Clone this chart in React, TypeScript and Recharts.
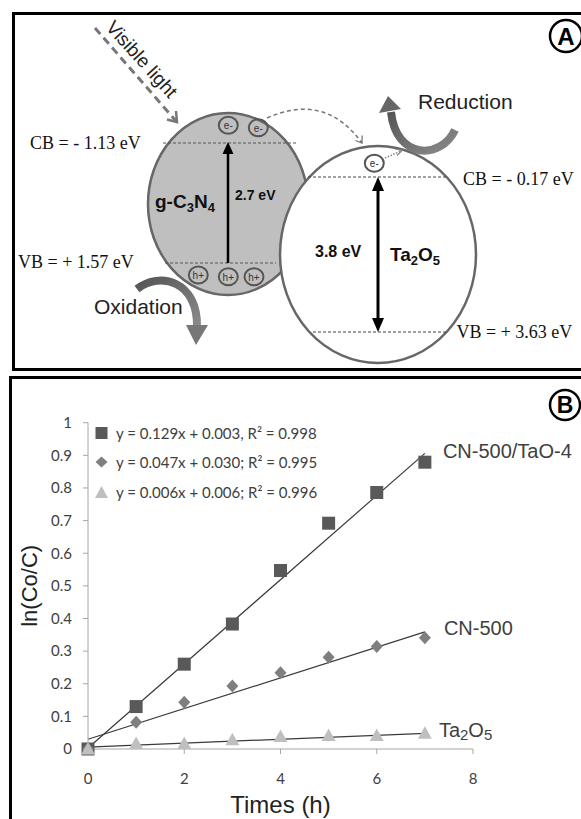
import React from 'react';
import { ComposedChart, Scatter, XAxis, YAxis, ReferenceLine, Legend, Label } from 'recharts';

// ---------- data (panel B) ----------
const times = [0, 1, 2, 3, 4, 5, 6, 7];
const cnTaoValues = [0, 0.13, 0.26, 0.383, 0.547, 0.692, 0.786, 0.879];
const cnValues = [0, 0.082, 0.143, 0.193, 0.234, 0.281, 0.314, 0.341];
const taValues = [0, 0.017, 0.017, 0.028, 0.038, 0.041, 0.041, 0.048];
const seriesNames = ['CN-500/TaO-4', 'CN-500', 'Ta2O5'];
const fitSlopes = [0.129, 0.047, 0.006];
const fitIntercepts = [0.003, 0.03, 0.006];
const fitLabels = [
  'y = 0.129x + 0.003, R² = 0.998',
  'y = 0.047x + 0.030; R² = 0.995',
  'y = 0.006x + 0.006; R² = 0.996',
];
const xTicks = [0, 2, 4, 6, 8];
const yTicks = [0, 0.1, 0.2, 0.3, 0.4, 0.5, 0.6, 0.7, 0.8, 0.9, 1];
const fitStart = 0;
const fitEnd = 7;

const toPoints = (vals: number[]) => times.map((t, i) => ({ x: t, y: vals[i] }));
const seriesData = [toPoints(cnTaoValues), toPoints(cnValues), toPoints(taValues)];

const COLORS = ['#595959', '#7f7f7f', '#bfbfbf'];
const LABEL_FONT = '"Liberation Sans", Arial, sans-serif';
const TICK_FONT = 'Lato, "Open Sans", sans-serif';
const SERIF = '"Liberation Serif", "Times New Roman", serif';

const SeriesLabel = ({ x, y, idx }: { x: number; y: number; idx: number }) => {
  if (idx === 2) {
    return (
      <text x={x} y={y} fontFamily={LABEL_FONT} fontSize={20} fill="#404040">
        Ta<tspan fontSize={15} dy={3}>2</tspan>
        <tspan fontSize={20} dy={-3}>O</tspan>
        <tspan fontSize={15} dy={3}>5</tspan>
      </text>
    );
  }
  return (
    <text x={x} y={y} fontFamily={LABEL_FONT} fontSize={20} fill="#404040">
      {seriesNames[idx]}
    </text>
  );
};

const labelOffsets = [
  { dx: 18, dy: -4 },
  { dx: 19, dy: -3 },
  { dx: 14, dy: 4 },
];

const makeShape = (idx: number) => (props: any) => {
  const { cx, cy, payload } = props;
  if (cx == null || cy == null) return <g />;
  let mark;
  if (idx === 0) {
    mark = <rect x={cx - 6.5} y={cy - 6.5} width={13} height={13} fill={COLORS[0]} />;
  } else if (idx === 1) {
    mark = (
      <polygon
        points={`${cx},${cy - 6.5} ${cx + 6},${cy} ${cx},${cy + 6.5} ${cx - 6},${cy}`}
        fill={COLORS[1]}
      />
    );
  } else {
    mark = (
      <polygon
        points={`${cx},${cy - 7} ${cx + 7},${cy + 5.5} ${cx - 7},${cy + 5.5}`}
        fill={COLORS[2]}
      />
    );
  }
  const isLast = payload && payload.x === times[times.length - 1];
  return (
    <g>
      {mark}
      {isLast && (
        <SeriesLabel x={cx + labelOffsets[idx].dx} y={cy + labelOffsets[idx].dy} idx={idx} />
      )}
    </g>
  );
};

const LegendMarker = ({ idx }: { idx: number }) => (
  <svg width={13} height={14} style={{ display: 'block' }}>
    {idx === 0 && <rect x={0.5} y={1} width={12} height={12} fill={COLORS[0]} />}
    {idx === 1 && <polygon points="6.5,1.5 12.5,7 6.5,12.5 0.5,7" fill={COLORS[1]} />}
    {idx === 2 && <polygon points="6.5,1 13,13 0,13" fill={COLORS[2]} />}
  </svg>
);

const LegendContent = () => (
  <div style={{ fontFamily: TICK_FONT, fontSize: 15, color: '#404040' }}>
    {fitLabels.map((t, i) => (
      <div key={i} style={{ display: 'flex', alignItems: 'center', height: 29.5, whiteSpace: 'nowrap' }}>
        <LegendMarker idx={i} />
        <span style={{ marginLeft: 8 }}>{t}</span>
      </div>
    ))}
  </div>
);

const KineticsChart = () => (
  <ComposedChart
    width={581}
    height={443}
    margin={{ top: 46.7, right: 108, bottom: 30, left: 0 }}
    style={{ overflow: 'visible' }}
  >
    <XAxis
      type="number"
      dataKey="x"
      domain={[0, 8]}
      ticks={xTicks}
      height={40}
      tickSize={5}
      tickMargin={19}
      stroke="#a6a6a6"
      tick={{ fill: '#404040', fontFamily: TICK_FONT, fontSize: 15 }}
    >
      <Label
        content={(p: any) => {
          const vb = p.viewBox || { x: 88, y: 373, width: 385 };
          return (
            <text
              x={vb.x + vb.width / 2}
              y={vb.y + 64}
              textAnchor="middle"
              fontFamily={LABEL_FONT}
              fontSize={24}
              fill="#222"
            >
              Times (h)
            </text>
          );
        }}
      />
    </XAxis>
    <YAxis
      type="number"
      dataKey="y"
      domain={[0, 1]}
      ticks={yTicks}
      width={88}
      tickSize={5}
      tickMargin={11}
      stroke="#a6a6a6"
      tickFormatter={(v: number) => String(v)}
      tick={{ fill: '#404040', fontFamily: TICK_FONT, fontSize: 15 }}
    >
      <Label
        content={(p: any) => {
          const vb = p.viewBox || { x: 0, y: 46.7, height: 326 };
          const cx = vb.x + 30;
          const cy = vb.y + vb.height / 2;
          return (
            <text
              x={cx}
              y={cy}
              transform={`rotate(-90, ${cx}, ${cy})`}
              textAnchor="middle"
              dominantBaseline="central"
              fontFamily={LABEL_FONT}
              fontSize={22}
              fill="#222"
            >
              ln(Co/C)
            </text>
          );
        }}
      />
    </YAxis>
    <Legend
      layout="vertical"
      align="center"
      verticalAlign="middle"
      content={() => <LegendContent />}
      wrapperStyle={{ left: 95, top: 42, width: 'auto', height: 'auto' }}
    />
    {fitSlopes.map((m, i) => (
      <ReferenceLine
        key={`fit-${i}`}
        segment={[
          { x: fitStart, y: m * fitStart + fitIntercepts[i] },
          { x: fitEnd, y: m * fitEnd + fitIntercepts[i] },
        ]}
        stroke="#3a3a3a"
        strokeWidth={1.2}
        ifOverflow="visible"
      />
    ))}
    {seriesData.map((d, i) => (
      <Scatter
        key={`s-${i}`}
        name={seriesNames[i]}
        data={d}
        fill={COLORS[i]}
        shape={makeShape(i)}
        isAnimationActive={false}
      />
    ))}
  </ComposedChart>
);

// ---------- panel A: band diagram ----------
const GREY_STROKE = '#676767';

const Carrier = ({ x, y, t }: { x: number; y: number; t: string }) => (
  <g>
    <ellipse cx={x} cy={y} rx={9.5} ry={8.5} fill="none" stroke="#555" strokeWidth={2} />
    <text
      x={x}
      y={y + 0.5}
      textAnchor="middle"
      dominantBaseline="central"
      fontFamily={LABEL_FONT}
      fontSize={10}
      fill="#333"
    >
      {t}
    </text>
  </g>
);

const Diagram = () => (
  <svg width={581} height={819} style={{ position: 'absolute', left: 0, top: 0 }}>
    <defs>
      <linearGradient id="arrGrad" x1="0" y1="0" x2="1" y2="1">
        <stop offset="0%" stopColor="#555" />
        <stop offset="100%" stopColor="#8a8a8a" />
      </linearGradient>
    </defs>
    {/* borders */}
    <rect x={13.5} y={13.5} width={620} height={356} fill="none" stroke="#000" strokeWidth={3} />
    <rect x={10.5} y={377.5} width={620} height={500} fill="none" stroke="#000" strokeWidth={3} />

    {/* A label */}
    <circle cx={566} cy={36} r={16} fill="none" stroke="#000" strokeWidth={2.5} />
    <text x={566} y={44.5} textAnchor="middle" fontFamily={LABEL_FONT} fontWeight="bold" fontSize={24}>
      A
    </text>

    {/* visible light */}
    <line x1={95} y1={28} x2={176} y2={121} stroke="#777" strokeWidth={3} strokeDasharray="8 5" />
    <polyline points="176,111 177,122 167,119.5" fill="none" stroke="#777" strokeWidth={2.5} />
    <text
      x={105}
      y={28}
      transform="rotate(48, 105, 28)"
      fontFamily={LABEL_FONT}
      fontSize={19}
      fill="#222"
    >
      Visible light
    </text>

    {/* g-C3N4 ellipse */}
    <ellipse cx={228} cy={204} rx={80} ry={91} fill="#bfbfbf" stroke={GREY_STROKE} strokeWidth={2.5} />
    <line x1={163} y1={143} x2={296} y2={143} stroke="#555" strokeWidth={1} strokeDasharray="3 2" />
    <line x1={165} y1={263} x2={276} y2={263} stroke="#555" strokeWidth={1} strokeDasharray="3 2" />

    {/* Ta2O5 circle */}
    <ellipse cx={378} cy={254.5} rx={98} ry={108.5} fill="#fff" stroke={GREY_STROKE} strokeWidth={2.5} />
    <line x1={308} y1={177} x2={448} y2={177} stroke="#444" strokeWidth={1} strokeDasharray="3 2" />
    <line x1={313} y1={332} x2={447} y2={332} stroke="#444" strokeWidth={1} strokeDasharray="3 2" />

    {/* band gap arrows */}
    <line x1={228} y1={263} x2={228} y2={152} stroke="#000" strokeWidth={2.5} />
    <polygon points="228,142 222.5,154 233.5,154" fill="#000" />
    <line x1={378} y1={189} x2={378} y2={320} stroke="#000" strokeWidth={3} />
    <polygon points="378,177 372,191 384,191" fill="#000" />
    <polygon points="378,332 372,318 384,318" fill="#000" />

    {/* carriers */}
    <Carrier x={228.3} y={125.3} t="e-" />
    <Carrier x={258.3} y={127.7} t="e-" />
    <Carrier x={198.3} y={275} t="h+" />
    <Carrier x={228.3} y={276.7} t="h+" />
    <Carrier x={254} y={276.7} t="h+" />
    <Carrier x={374.3} y={163.3} t="e-" />

    {/* electron transfer */}
    <path d="M 267 118 Q 325 92 362 143" fill="none" stroke="#777" strokeWidth={1.5} strokeDasharray="4 3" />
    <polyline points="362.2,135.5 362,143 355.5,140.5" fill="none" stroke="#777" strokeWidth={1.3} />
    <line x1={385} y1={158} x2={401} y2={151} stroke="#888" strokeWidth={1.5} strokeDasharray="1.5 1.5" />
    <polyline points="395,149 402,150.5 397,155.5" fill="none" stroke="#888" strokeWidth={1.2} />

    {/* labels */}
    <text x={30} y={149} fontFamily={SERIF} fontSize={18} fill="#111">CB = - 1.13 eV</text>
    <text x={18} y={268} fontFamily={SERIF} fontSize={18} fill="#111">VB = + 1.57 eV</text>
    <text x={463} y={185} fontFamily={SERIF} fontSize={18} fill="#111">CB = - 0.17 eV</text>
    <text x={456.5} y={338} fontFamily={SERIF} fontSize={18} fill="#111">VB = + 3.63 eV</text>

    <text x={235} y={200} fontFamily={LABEL_FONT} fontWeight="bold" fontSize={14} fill="#111">2.7 eV</text>
    <text x={155} y={208} fontFamily={LABEL_FONT} fontWeight="bold" fontSize={19} fill="#111">
      g-C<tspan fontSize={13} dy={4}>3</tspan>
      <tspan fontSize={19} dy={-4}>N</tspan>
      <tspan fontSize={13} dy={4}>4</tspan>
    </text>
    <text x={315} y={257} fontFamily={LABEL_FONT} fontWeight="bold" fontSize={16} fill="#111">3.8 eV</text>
    <text x={390} y={261} fontFamily={LABEL_FONT} fontWeight="bold" fontSize={19} fill="#111">
      Ta<tspan fontSize={13} dy={4}>2</tspan>
      <tspan fontSize={19} dy={-4}>O</tspan>
      <tspan fontSize={13} dy={4}>5</tspan>
    </text>

    <text x={418} y={109} fontFamily={LABEL_FONT} fontSize={21} fill="#222">Reduction</text>
    <text x={94} y={314} fontFamily={LABEL_FONT} fontSize={21} fill="#222">Oxidation</text>

    {/* reduction / oxidation curved arrows */}
    <path d="M 455 130 C 441 160, 396 160, 391 112" fill="none" stroke="url(#arrGrad)" strokeWidth={8} />
    <polygon points="379,113 401,109 388,96" fill="#666" />
    <path d="M 137 289 C 160 271, 198 281, 197 327" fill="none" stroke="url(#arrGrad)" strokeWidth={8} />
    <polygon points="186,325 208,325 196,345" fill="#777" />

    {/* B label */}
    <circle cx={565} cy={405} r={15} fill="none" stroke="#000" strokeWidth={2.5} />
    <text x={565} y={413} textAnchor="middle" fontFamily={LABEL_FONT} fontWeight="bold" fontSize={23}>
      B
    </text>
  </svg>
);

export default function App() {
  return (
    <div style={{ position: 'absolute', left: 0, top: 0, width: 581, height: 819, background: '#fff', overflow: 'hidden' }}>
      <Diagram />
      <div style={{ position: 'absolute', left: 0, top: 376 }}>
        <KineticsChart />
      </div>
    </div>
  );
}
